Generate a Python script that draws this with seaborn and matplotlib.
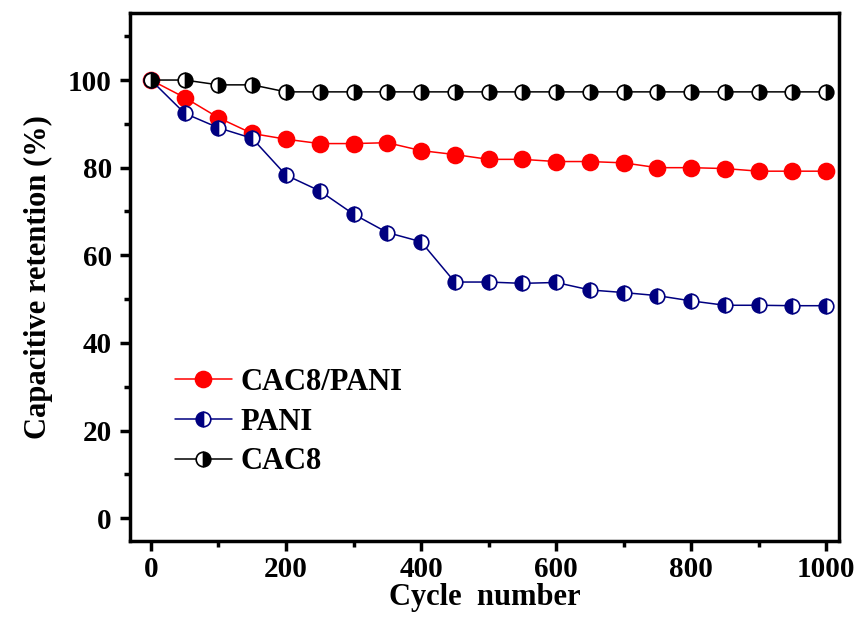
import numpy as np
import pandas as pd
import matplotlib
matplotlib.use("Agg")
import matplotlib.pyplot as plt
import seaborn as sns
from matplotlib.ticker import MultipleLocator

cycles = [0, 50, 100, 150, 200, 250, 300, 350, 400, 450, 500,
          550, 600, 650, 700, 750, 800, 850, 900, 950, 1000]
cac8_pani = [100, 96.0, 91.4, 87.8, 86.5, 85.5, 85.5, 85.7, 83.9, 83.0, 81.9,
             81.9, 81.4, 81.4, 81.1, 80.0, 80.0, 79.8, 79.2, 79.2, 79.2]
pani = [100, 92.4, 89.1, 86.7, 78.3, 74.7, 69.4, 65.2, 63.1, 53.9, 53.9,
        53.6, 53.8, 52.1, 51.5, 50.8, 49.6, 48.6, 48.6, 48.5, 48.5]
cac8 = [100, 100, 98.9, 98.9, 97.3, 97.3, 97.3, 97.3, 97.3, 97.3, 97.3,
        97.3, 97.3, 97.3, 97.3, 97.3, 97.3, 97.3, 97.3, 97.3, 97.3]
series_names = ["CAC8/PANI", "PANI", "CAC8"]

sns.set_theme(style="white")
plt.rcParams['font.family'] = ['Liberation Serif', 'DejaVu Serif']
plt.rcParams['font.weight'] = 'bold'
plt.rcParams['text.color'] = 'black'
plt.rcParams['axes.labelcolor'] = 'black'
plt.rcParams['xtick.color'] = 'black'
plt.rcParams['ytick.color'] = 'black'

fig = plt.figure(figsize=(8.62, 6.29), dpi=100)
ax = fig.add_axes([130/862, 1-541/629, (839-130)/862, (541-13)/629])

df = pd.DataFrame({"cycle": cycles * 3,
                   "val": cac8_pani + pani + cac8,
                   "series": [series_names[0]]*len(cycles) + [series_names[1]]*len(cycles) + [series_names[2]]*len(cycles)})

colors = {"CAC8/PANI": "#ff0000", "PANI": "#000080", "CAC8": "#000000"}
styles = {"CAC8/PANI": "full", "PANI": "left", "CAC8": "right"}
msizes = {"CAC8/PANI": 11.5, "PANI": 10.5, "CAC8": 10.5}
handles = []
for name in series_names:
    sub = df[df.series == name]
    sns.lineplot(data=sub, x="cycle", y="val", ax=ax, color=colors[name],
                 marker="o", markersize=msizes[name], linewidth=1.1, legend=False)
    ln = ax.lines[-1]
    ln.set_fillstyle(styles[name])
    ln.set_markerfacecolor(colors[name])
    ln.set_markeredgecolor(colors[name])
    ln.set_markerfacecoloralt("white")
    ln.set_markeredgewidth(1.2)
    ln.set_label(name)
    handles.append(ln)

ax.set_xlim(-31, 1019)
ax.set_ylim(-5.2, 115.3)
ax.xaxis.set_major_locator(MultipleLocator(200))
ax.xaxis.set_minor_locator(MultipleLocator(100))
ax.yaxis.set_major_locator(MultipleLocator(20))
ax.yaxis.set_minor_locator(MultipleLocator(10))
ax.tick_params(which="major", direction="out", length=7, width=2.5, labelsize=21, pad=6,
               bottom=True, left=True, top=False, right=False, colors="black")
ax.tick_params(axis="x", which="major", pad=4)
ax.tick_params(which="minor", direction="out", length=4, width=2.5,
               bottom=True, left=True, top=False, right=False, colors="black")
for lab in ax.get_xticklabels() + ax.get_yticklabels():
    lab.set_fontweight("bold")
for sp in ax.spines.values():
    sp.set_linewidth(2.5)
    sp.set_color("black")

ax.set_xlabel("Cycle  number", fontsize=22, fontweight="bold", labelpad=0, color="black")
ax.set_ylabel("Capacitive retention (%)", fontsize=22, fontweight="bold", labelpad=11, color="black")

leg = fig.legend(handles=handles, loc="upper left", bbox_to_anchor=(175/862, 1-368/629),
                 bbox_transform=fig.transFigure,
                 frameon=False, prop={"size": 22, "weight": "bold"},
                 handlelength=1.85, handletextpad=0.3, labelspacing=0.35,
                 borderpad=0, borderaxespad=0)

fig.savefig("out.png", dpi=100)
